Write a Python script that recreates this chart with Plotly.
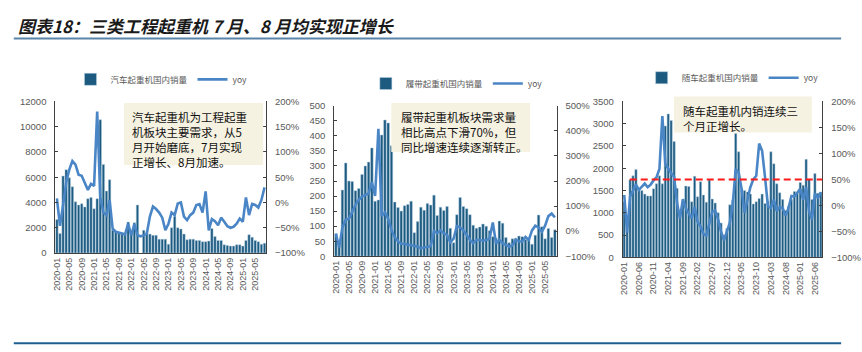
import plotly.graph_objects as go

W, H = 862, 352

months = [f"{y}-{m:02d}" for y in range(2020, 2026) for m in range(1, 13)][:68]

# Chart 1: 汽车起重机
truck_sales = [2650, 1550, 6100, 6600, 5950, 5250, 4050, 3800, 3900, 3650, 4300, 4400,
               3500, 4300, 10550, 7000, 4900, 5800, 1800, 1650, 1600, 1500, 1500, 2450,
               1500, 2400, 3800, None, 1800, 1600, 1500, 1400, 1400, 1100, 1100, 1100,
               700, 2000, 2900, 2000, 1900, 1500, 1050, 1100, 1100, 1000, 1000, 900,
               900, 950, 1950, 1300, 1000, 1000, 650, 600, 550, 550, 650, 650,
               550, 1000, 1450, 1250, 1000, 900, 700, 780]
truck_yoy = [8, -46, -5, 40, 65, 82, 75, 55, 53, 38, 25, 37,
             33, 180, 10, -20, -25, 5, -52, -58, -60, -62, -63, -42,
             -65, -43, -65, -67, -65, -62, -28, -8, -13, -20, -30, -55,
             -42, -20, -25, -2, 0, -28, -35, -25, -20, -5, -3, -20,
             22, -55, -33, -37, -45, -30, -38, -47, -50, -48, -42, -32,
             -38, 10, -25, -3, -5, -10, 5, 30]

# Chart 2: 履带起重机
crawler_sales = [75, 40, 220, 310, 250, 248, 218, 225, 272, 300, 313, 360,
                 183, 187, 403, 453, 443, 367, 180, 162, 150, 168, 172, 183,
                 78, 115, 163, 153, 175, 170, 203, 135, 163, 152, 165, 93,
                 45, 138, 195, 165, 158, 138, 103, 93, 97, 107, 100, 85,
                 65, 60, 117, 110, 62, 45, 58, 60, 67, 65, 55, 60,
                 40, 70, 137, 98, 58, 92, 62, 88]
crawler_yoy = [-10, -65, 15, 45, 50, 80, 105, 125, 138, 144, 150, 196,
               140, 408, 60, 75, 50, 5, -25, -40, -50, -50, -55, -55,
               -58, -62, -68, -65, -62, -60, 0, -8, 3, -8, -15, -45,
               -30, 20, 15, 3, -15, -35, -48, -35, -35, -38, -35, -30,
               35, -50, -35, -48, -55, -62, -58, -35, -40, -42, -23, -35,
               3, 22, 15, -3, 22, 60, 70, 55]

# Chart 3: 随车起重机
mounted_sales = [1250, 600, 1740, 1830, 1970, 1550, 1500, 1420, 1380, 1380, 1540, 1650,
                 1830, 1650, 2950, 3220, 3070, 2600, 1550, 1000, 1250, 1600, 1590, 1250,
                 1820, 1360, 1700, 1400, 1240, 1740, 1310, 1220, 1000, 770, 500, 650,
                 1180, 1280, 2780, 2370, 1530, 1500, 1470, 1420, 1200, 1250, 1320, 1420,
                 1210, 1260, 2370, 2100, 1650, 1450, 1300, 1050, 1150, 1300, 1480, 1450,
                 1680, 1620, 2200, 1750, 1300, 1880, 1440, 1470]
mounted_yoy = [20, -52, 17, 28, 40, 30, 36, 42, 35, 40, 48, 54,
               70, 172, 80, 70, 62, 55, 5, -25, 12, -6, -17, -25,
               -3, -32, -40, -55, -58, -33, -12, -10, -27, -50, -67, -50,
               -33, 4, 70, 63, 32, -14, 11, 35, 50, 57, 119, 105,
               54, -2, -5, 11, -11, -3, -5, -20, -5, 18, 17, 25,
               32, 11, 35, -11, -27, 23, 14, 25]
mounted_ref = 50

title_text = "图表18：三类工程起重机 7 月、8 月均实现正增长"
names = ["汽车起重机国内销量", "履带起重机国内销量", "随车起重机国内销量"]
notes = [["汽车起重机为工程起重", "机板块主要需求，从5", "月开始磨底，7月实现", "正增长、8月加速。"],
         ["履带起重机板块需求量", "相比高点下滑70%，但", "同比增速连续逐渐转正。"],
         ["随车起重机内销连续三", "个月正增长。"]]

BAR_C = "#1C5A80"
LINE_C = "#4A86C6"
TXT_C = "#595959"
NUM_FONT = dict(family="Liberation Sans, Arial, sans-serif", size=9.5, color=TXT_C)
CJK = "Noto Sans CJK SC, sans-serif"


def px(x):
    return x / W


def py(y):
    return 1 - y / H


fig = go.Figure()
series = [(truck_sales, truck_yoy), (crawler_sales, crawler_yoy), (mounted_sales, mounted_yoy)]
for i, (s, yy) in enumerate(series):
    xa = "x" if i == 0 else f"x{i+1}"
    ya_l = "y" if i == 0 else f"y{2*i+1}"
    ya_r = f"y{2*i+2}"
    lg = "legend" if i == 0 else f"legend{i+1}"
    fig.add_trace(go.Bar(x=months, y=s, xaxis=xa, yaxis=ya_l, name=names[i], legend=lg,
                         marker=dict(color=BAR_C, line=dict(color="#B5CFE0", width=0.5))))
    fig.add_trace(go.Scatter(x=months, y=yy, xaxis=xa, yaxis=ya_r, name="yoy", legend=lg,
                             mode="lines", line=dict(color=LINE_C, width=2.6), connectgaps=True))

base = dict(showline=True, linecolor="#404040", linewidth=1, ticks="inside", ticklen=3,
            tickcolor="#404040", showgrid=False, zeroline=False, tickfont=NUM_FONT)

# pixel geometry of plot areas
geo = [
    dict(x0=52.5, x1=268, y0=98.5, y1=255, lr=[0, 12000], ld=2000, rr=[-100, 200], rd=50, step=4),
    dict(x0=337.7, x1=565, y0=103, y1=258.3, lr=[0, 500], ld=50, rr=[-100, 500], rd=100, step=4),
    dict(x0=632.7, x1=836.7, y0=98.5, y1=259.5, lr=[0, 3500], ld=500, rr=[-100, 200], rd=50, step=5),
]
lay = {}
for i, g in enumerate(geo):
    xk = "xaxis" if i == 0 else f"xaxis{i+1}"
    ylk = "yaxis" if i == 0 else f"yaxis{2*i+1}"
    yrk = f"yaxis{2*i+2}"
    ya_l = "y" if i == 0 else f"y{2*i+1}"
    xa = "x" if i == 0 else f"x{i+1}"
    lay[xk] = dict(base, domain=[px(g["x0"]), px(g["x1"])], anchor=ya_l, type="category",
                   tickvals=months[::g["step"]], tickangle=-90, ticks="",
                   tickfont=dict(NUM_FONT, size=9), range=[-0.5, 67.5])
    lay[ylk] = dict(base, domain=[py(g["y1"]), py(g["y0"])], anchor=xa, range=g["lr"],
                    dtick=g["ld"], tick0=0, tickformat="d", ticklabelstandoff=6)
    lay[yrk] = dict(base, overlaying=ya_l, side="right", anchor=xa, range=g["rr"],
                    dtick=g["rd"], tick0=0, tickformat="d", ticksuffix="%", ticklabelstandoff=6)
fig.update_layout(**lay)

leg_base = dict(orientation="h", xanchor="left", yanchor="middle", itemwidth=30,
                font=dict(family=CJK, size=8.5, color=TXT_C), bgcolor="rgba(0,0,0,0)",
                itemclick=False)
fig.update_layout(
    legend=dict(leg_base, x=px(68), y=py(75.7)),
    legend2=dict(leg_base, x=px(370), y=py(80)),
    legend3=dict(leg_base, x=px(652), y=py(74)),
)

shapes = []
annots = []
# text boxes: (x0, x1, y0, y1, text_x, text_top)
boxes = [(122.7, 265, 100, 164, 129, 104),
         (396, 538, 100, 150.7, 404, 104),
         (685, 826, 93.3, 130.7, 692, 98)]
for (bx0, bx1, by0, by1, tx, ty), lines in zip(boxes, notes):
    shapes.append(dict(type="rect", xref="paper", yref="paper", x0=px(bx0), x1=px(bx1),
                       y0=py(by1), y1=py(by0), fillcolor="#F6F2E2", line=dict(width=0),
                       layer="above"))
    annots.append(dict(text="<br>".join(lines), xref="paper", yref="paper", x=px(tx), y=py(ty),
                       xanchor="left", yanchor="top", align="left", showarrow=False,
                       font=dict(family=CJK, size=11.5, color="#111111")))

# reference dashed line at 50% on chart 3 secondary axis
shapes.append(dict(type="line", xref="x3 domain", yref="y6", x0=0.035, x1=1,
                   y0=mounted_ref, y1=mounted_ref, line=dict(color="#FF1A1A", width=2, dash="7px,4px"),
                   layer="above"))
# title underline and bottom rule
shapes.append(dict(type="line", xref="paper", yref="paper", x0=px(10), x1=px(856),
                   y0=py(33.5), y1=py(33.5), line=dict(color="#5A84A8", width=2)))
shapes.append(dict(type="line", xref="paper", yref="paper", x0=px(10), x1=px(856),
                   y0=py(348), y1=py(348), line=dict(color="#1F5F8F", width=2)))

annots.append(dict(text=f"<b><i>{title_text}</i></b>", xref="paper", yref="paper",
                   x=px(12), y=py(20), xanchor="left", yanchor="middle", showarrow=False,
                   font=dict(family=CJK, size=17, color="#1A1A1A")))

fig.update_layout(shapes=shapes, annotations=annots, width=W, height=H,
                  margin=dict(l=0, r=0, t=0, b=0), paper_bgcolor="white",
                  plot_bgcolor="rgba(0,0,0,0)", bargap=0.22, showlegend=True)

fig.write_html("out.html", config={"displayModeBar": False})
